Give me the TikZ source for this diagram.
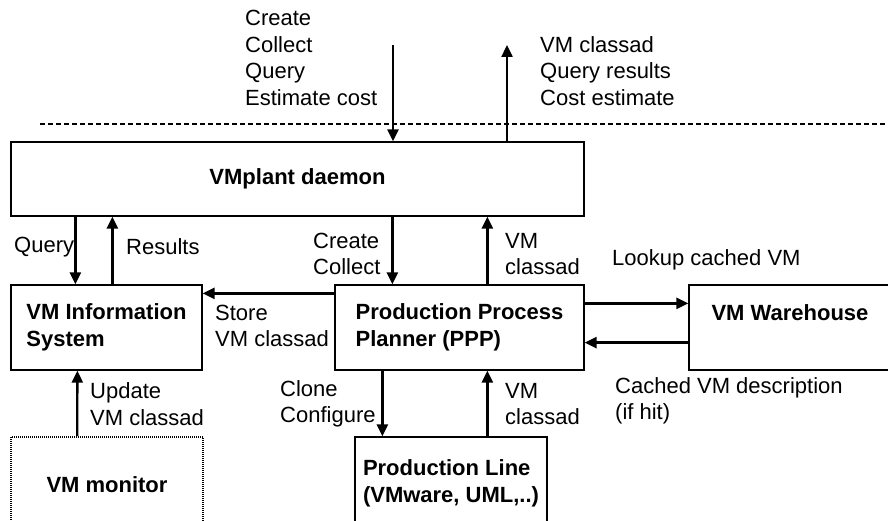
\documentclass[tikz,border=0pt]{standalone}
\usepackage{fontspec}
\setmainfont{Liberation Sans}
\usepackage{tikz}
\usetikzlibrary{positioning}
\usetikzlibrary{arrows.meta}

\begin{document}
\begin{tikzpicture}[x=1pt,y=-1pt,
			font=\fontsize{22}{26.5}\selectfont,
			boxnode/.style={rectangle, draw=black, line width=1.3pt, fill=white, inner sep=0pt},
			lbl/.style={inner sep=0pt, anchor=west, align=left},
			title/.style={font=\fontsize{22}{26.5}\selectfont\bfseries, align=left, inner sep=0pt},
			flow/.style={line width=2.4pt, -{Triangle[length=12pt,width=11pt]}},
			]
			\clip (0,0) rectangle (888,521);
			%Nodes
			\node[boxnode, minimum width=573pt, minimum height=74pt]      (daemon)  at (297.5,179)  {\textbf{VMplant daemon}};
			\node[boxnode, minimum width=191pt, minimum height=85pt, title]      (info)    at (106.5,327.5) {VM Information\\System};
			\node[boxnode, minimum width=249pt, minimum height=85pt, title]      (ppp)     at (459.5,327.5) {Production Process\\Planner (PPP)};
			\node[boxnode, minimum width=211pt, minimum height=85pt]      (ware)    at (794.5,327.5) {};
			\node[title]      (waretext) at (790,313) {VM Warehouse};
			\node[boxnode, minimum width=192pt, minimum height=93pt, title]      (line)    at (451,483.5) {Production Line\\(VMware, UML,..)};
			\node[boxnode, minimum width=192pt, minimum height=96pt, line width=1.6pt, dash pattern=on 1pt off 1pt, title]      (monitor) at (107,485) {VM monitor};
			
			\coordinate (reqtop) at (393,45);
			\coordinate (reptop) at (507,45);
			\coordinate (sepl) at (40,124);
			\coordinate (sepr) at (888,124);
			
			%Labels
			\node[lbl] (reqlbl)    at (245,58)  {Create\\Collect\\Query\\Estimate cost};
			\node[lbl] (replbl)    at (540,71)  {VM classad\\Query results\\Cost estimate};
			\node[lbl] (querylbl)  at (14,247)  {Query};
			\node[lbl] (reslbl)    at (126,247) {Results};
			\node[lbl] (createlbl) at (313,254) {Create\\Collect};
			\node[lbl] (classlbl)  at (505,254) {VM\\classad};
			\node[lbl] (lookuplbl) at (612,260) {Lookup cached VM};
			\node[lbl] (storelbl)  at (215,326) {Store\\VM classad};
			\node[lbl] (cachedlbl) at (615,401) {Cached VM description\\(if hit)};
			\node[lbl] (updatelbl) at (90,404)  {Update\\VM classad};
			\node[lbl] (clonelbl)  at (280,404) {Clone\\Configure};
			\node[lbl] (class2lbl) at (505,404) {VM\\classad};
			
			%Lines
			\draw[line width=2pt, dash pattern=on 5pt off 3pt] (sepl) -- (sepr);
			\draw[flow] (reqtop) -- (reqtop |- daemon.north);
			\draw[flow] (reptop |- daemon.north) -- (reptop);
			\draw[flow] ([xshift=65pt]daemon.south west) -- ([xshift=65pt]info.north west);
			\draw[flow] ([xshift=102pt]info.north west) -- ([xshift=102pt]daemon.south west);
			\draw[flow] ([xshift=382pt]daemon.south west) -- ([xshift=58pt]ppp.north west);
			\draw[flow] ([xshift=153pt]ppp.north west) -- ([xshift=477pt]daemon.south west);
			\draw[flow] ([yshift=-9pt]ppp.north west) -- ([yshift=-9pt]info.north east);
			\draw[flow] ([yshift=-19pt]ppp.north east) -- ([yshift=-19pt]ware.north west);
			\draw[flow] ([yshift=28pt]ware.south west) -- ([yshift=28pt]ppp.south east);
			\draw[flow] ([xshift=48pt]ppp.south west) -- ([xshift=28pt]line.north west);
			\draw[flow] ([xshift=133pt]line.north west) -- ([xshift=153pt]ppp.south west);
			\draw[flow] ([xshift=67pt]monitor.north west) -- ([xshift=67pt]info.south west);
		\end{tikzpicture}
\end{document}
